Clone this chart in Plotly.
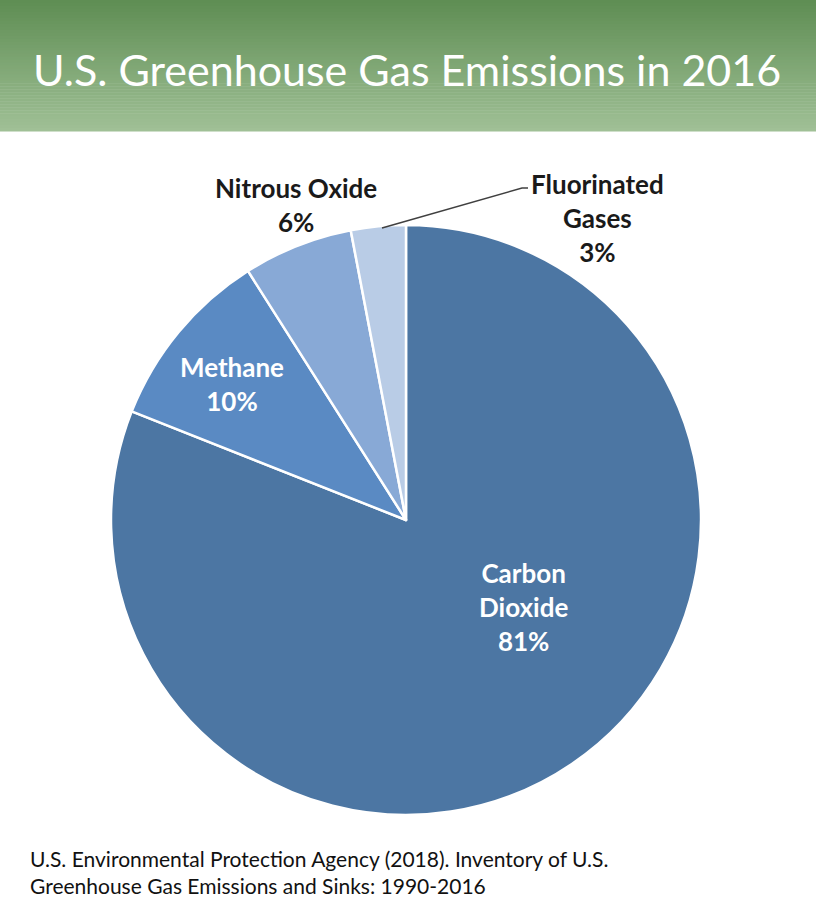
import plotly.graph_objects as go

# data
gases = ['Carbon Dioxide', 'Methane', 'Nitrous Oxide', 'Fluorinated Gases']
shares = [81, 10, 6, 3]
slice_colors = ['#4c76a3', '#5a8ac3', '#88a9d6', '#b9cce6']

W, H = 816, 924


def px(x, y):
    # pixel position -> paper coords
    return x / W, 1 - y / H


fig = go.Figure()
fig.add_trace(go.Pie(labels=gases, values=shares, sort=False, direction='clockwise',
                     rotation=0, textinfo='none', hoverinfo='label+percent',
                     marker=dict(colors=slice_colors, line=dict(color='white', width=2.5)),
                     domain=dict(x=[110 / W, 702 / W], y=[1 - 815 / H, 1 - 225 / H]),
                     showlegend=False))

# green gradient banner, drawn as thin bands
shapes = []
top_c, bot_c = (95, 142, 84), (160, 192, 150)
n = 44
for i in range(n):
    f = i / (n - 1)
    c = tuple(int(top_c[k] + (bot_c[k] - top_c[k]) * f) for k in range(3))
    y0 = i * 131 / n
    y1 = (i + 1) * 131 / n + 0.5
    shapes.append(dict(type='rect', xref='paper', yref='paper', x0=0, x1=1,
                       y0=1 - y1 / H, y1=1 - y0 / H, fillcolor='rgb(%d,%d,%d)' % c,
                       line=dict(width=0), layer='below'))

# leader line for fluorinated gases
lx = [382, 522, 528]
ly = [228, 188, 188]
path = 'M ' + ' L '.join('%f,%f' % px(a, b) for a, b in zip(lx, ly))
shapes.append(dict(type='path', xref='paper', yref='paper', path=path,
                   line=dict(color='#404040', width=1.5)))

font = 'Lato'
white_lbl = dict(family=font, size=26, color='white')
dark_lbl = dict(family=font, size=26, color='#1a1a1a')

annos = []


def label(text, x, y, fnt):
    xx, yy = px(x, y)
    annos.append(dict(text=text, x=xx, y=yy, xref='paper', yref='paper', showarrow=False,
                      font=fnt, align='center', xanchor='center', yanchor='middle'))


label('<b>Carbon<br>Dioxide<br>%d%%</b>' % shares[0], 523, 607, white_lbl)
label('<b>%s<br>%d%%</b>' % (gases[1], shares[1]), 232, 384, white_lbl)
label('<b>%s<br>%d%%</b>' % (gases[2], shares[2]), 296, 205, dark_lbl)
label('<b>Fluorinated<br>Gases<br>%d%%</b>' % shares[3], 597, 218, dark_lbl)

label('U.S. Greenhouse Gas Emissions in 2016', 407, 69,
      dict(family=font, size=43, color='white'))

xx, yy = px(28, 872)
annos.append(dict(text='U.S. Environmental Protection Agency (2018). Inventory of U.S.<br>'
                       'Greenhouse Gas Emissions and Sinks: 1990-2016',
                  x=xx, y=yy, xref='paper', yref='paper', showarrow=False, align='left',
                  xanchor='left', yanchor='middle',
                  font=dict(family=font, size=21, color='#111111')))

fig.update_layout(width=W, height=H, margin=dict(l=0, r=0, t=0, b=0),
                  paper_bgcolor='white', plot_bgcolor='white',
                  shapes=shapes, annotations=annos)

fig.write_html("out.html", config={'displayModeBar': False},
               post_script="document.body.style.margin='0';")
